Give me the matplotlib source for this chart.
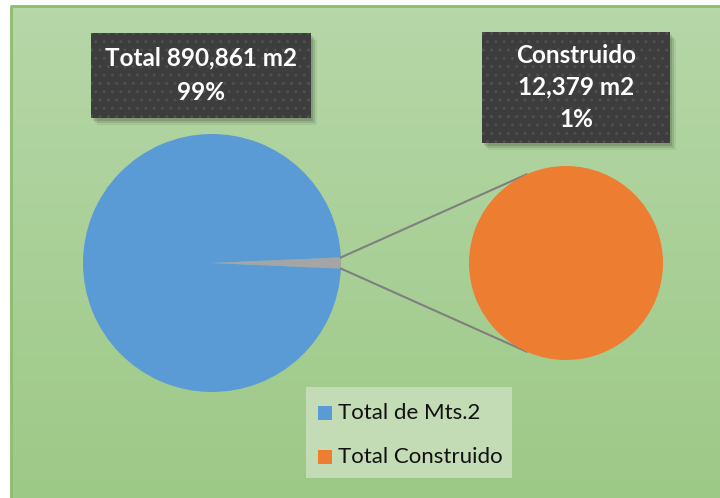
import numpy as np
import matplotlib.pyplot as plt
from matplotlib.patches import Rectangle
from matplotlib.colors import LinearSegmentedColormap

# data
labels = ["Total de Mts.2", "Total Construido"]
total_m2 = 890861
construido_m2 = 12379
colors = ["#5b9bd5", "#ed7d31"]
other_color = "#a5a5a5"

pct_total = total_m2 / (total_m2 + construido_m2) * 100
pct_constr = construido_m2 / (total_m2 + construido_m2) * 100

plt.rcParams['font.family'] = ['Lato', 'DejaVu Sans']
plt.rcParams['hatch.linewidth'] = 1.0

fig = plt.figure(figsize=(7.2, 4.98), dpi=100)
ax = fig.add_axes([0, 0, 1, 1])

# green gradient panel
grad = LinearSegmentedColormap.from_list('g', ['#b6d7a8', '#9dc987'])
ax.imshow(np.linspace(0, 1, 100).reshape(-1, 1), cmap=grad, aspect='auto',
          extent=[11, 720, 498, 6], zorder=0)
ax.plot([11, 11, 720], [498, 6, 6], color='#8cbd6a', lw=2, zorder=1)

# main pie (blue + grey "other" part)
c1, r1 = (212, 263), 129
frac = construido_m2 / (total_m2 + construido_m2)
half = frac * 360 / 2
ax.pie([construido_m2, total_m2], colors=[other_color, colors[0]],
       center=c1, radius=r1, startangle=-half, frame=True,
       wedgeprops=dict(linewidth=0))

# secondary pie
c2, r2 = (566, 263), 97
wed2, _ = ax.pie([construido_m2], colors=[colors[1]], center=c2, radius=r2,
                 frame=True, wedgeprops=dict(linewidth=0))
for w in wed2:
    w.set_zorder(4)
ax.set_xlim(0, 720)
ax.set_ylim(498, 0)
ax.axis('off')

# connector lines
for s in (1, -1):
    a = np.deg2rad(half) * s
    x0 = c1[0] + r1 * np.cos(a)
    y0 = c1[1] + r1 * np.sin(a)
    b = np.deg2rad(180 - 66 * s)
    x1 = c2[0] + r2 * np.cos(b)
    y1 = c2[1] + r2 * np.sin(b)
    ax.plot([x0, x1], [y0, y1], color='#7f7f7f', lw=1.5, zorder=3)

# label boxes
def label_box(x0, y0, x1, y1, lines, ys):
    for k, al in ((6, 0.06), (4, 0.1), (2, 0.12)):
        ax.add_patch(Rectangle((x0 + k, y0 + k + 1), x1 - x0, y1 - y0,
                               fc='#000000', alpha=al, lw=0, zorder=5))
    ax.add_patch(Rectangle((x0, y0), x1 - x0, y1 - y0, fc='#3d3d3d',
                           ec='#4f4f4f', hatch='..', lw=0, zorder=6))
    for t, y in zip(lines, ys):
        ax.text((x0 + x1) / 2, y, t, color='white', fontsize=17.5,
                fontweight='bold', ha='center', va='center', zorder=7)

label_box(91, 33, 311, 118,
          ["Total {:,} m2".format(total_m2), "{:.0f}%".format(pct_total)],
          [58, 92])
label_box(482, 32, 670, 143,
          ["Construido", "{:,} m2".format(construido_m2),
           "{:.0f}%".format(pct_constr)],
          [55, 87, 119])

# legend
ax.add_patch(Rectangle((306, 387), 206, 91, fc='#c4dcb6', lw=0, zorder=5))
for i, (lab, col) in enumerate(zip(labels, colors)):
    y = 413 + i * 44
    ax.add_patch(Rectangle((318, y - 7), 14, 14, fc=col, lw=0, zorder=6))
    ax.text(338, y, lab, fontsize=16, color='#111111', va='center',
            ha='left', zorder=6)

fig.savefig('out.png', dpi=100)
